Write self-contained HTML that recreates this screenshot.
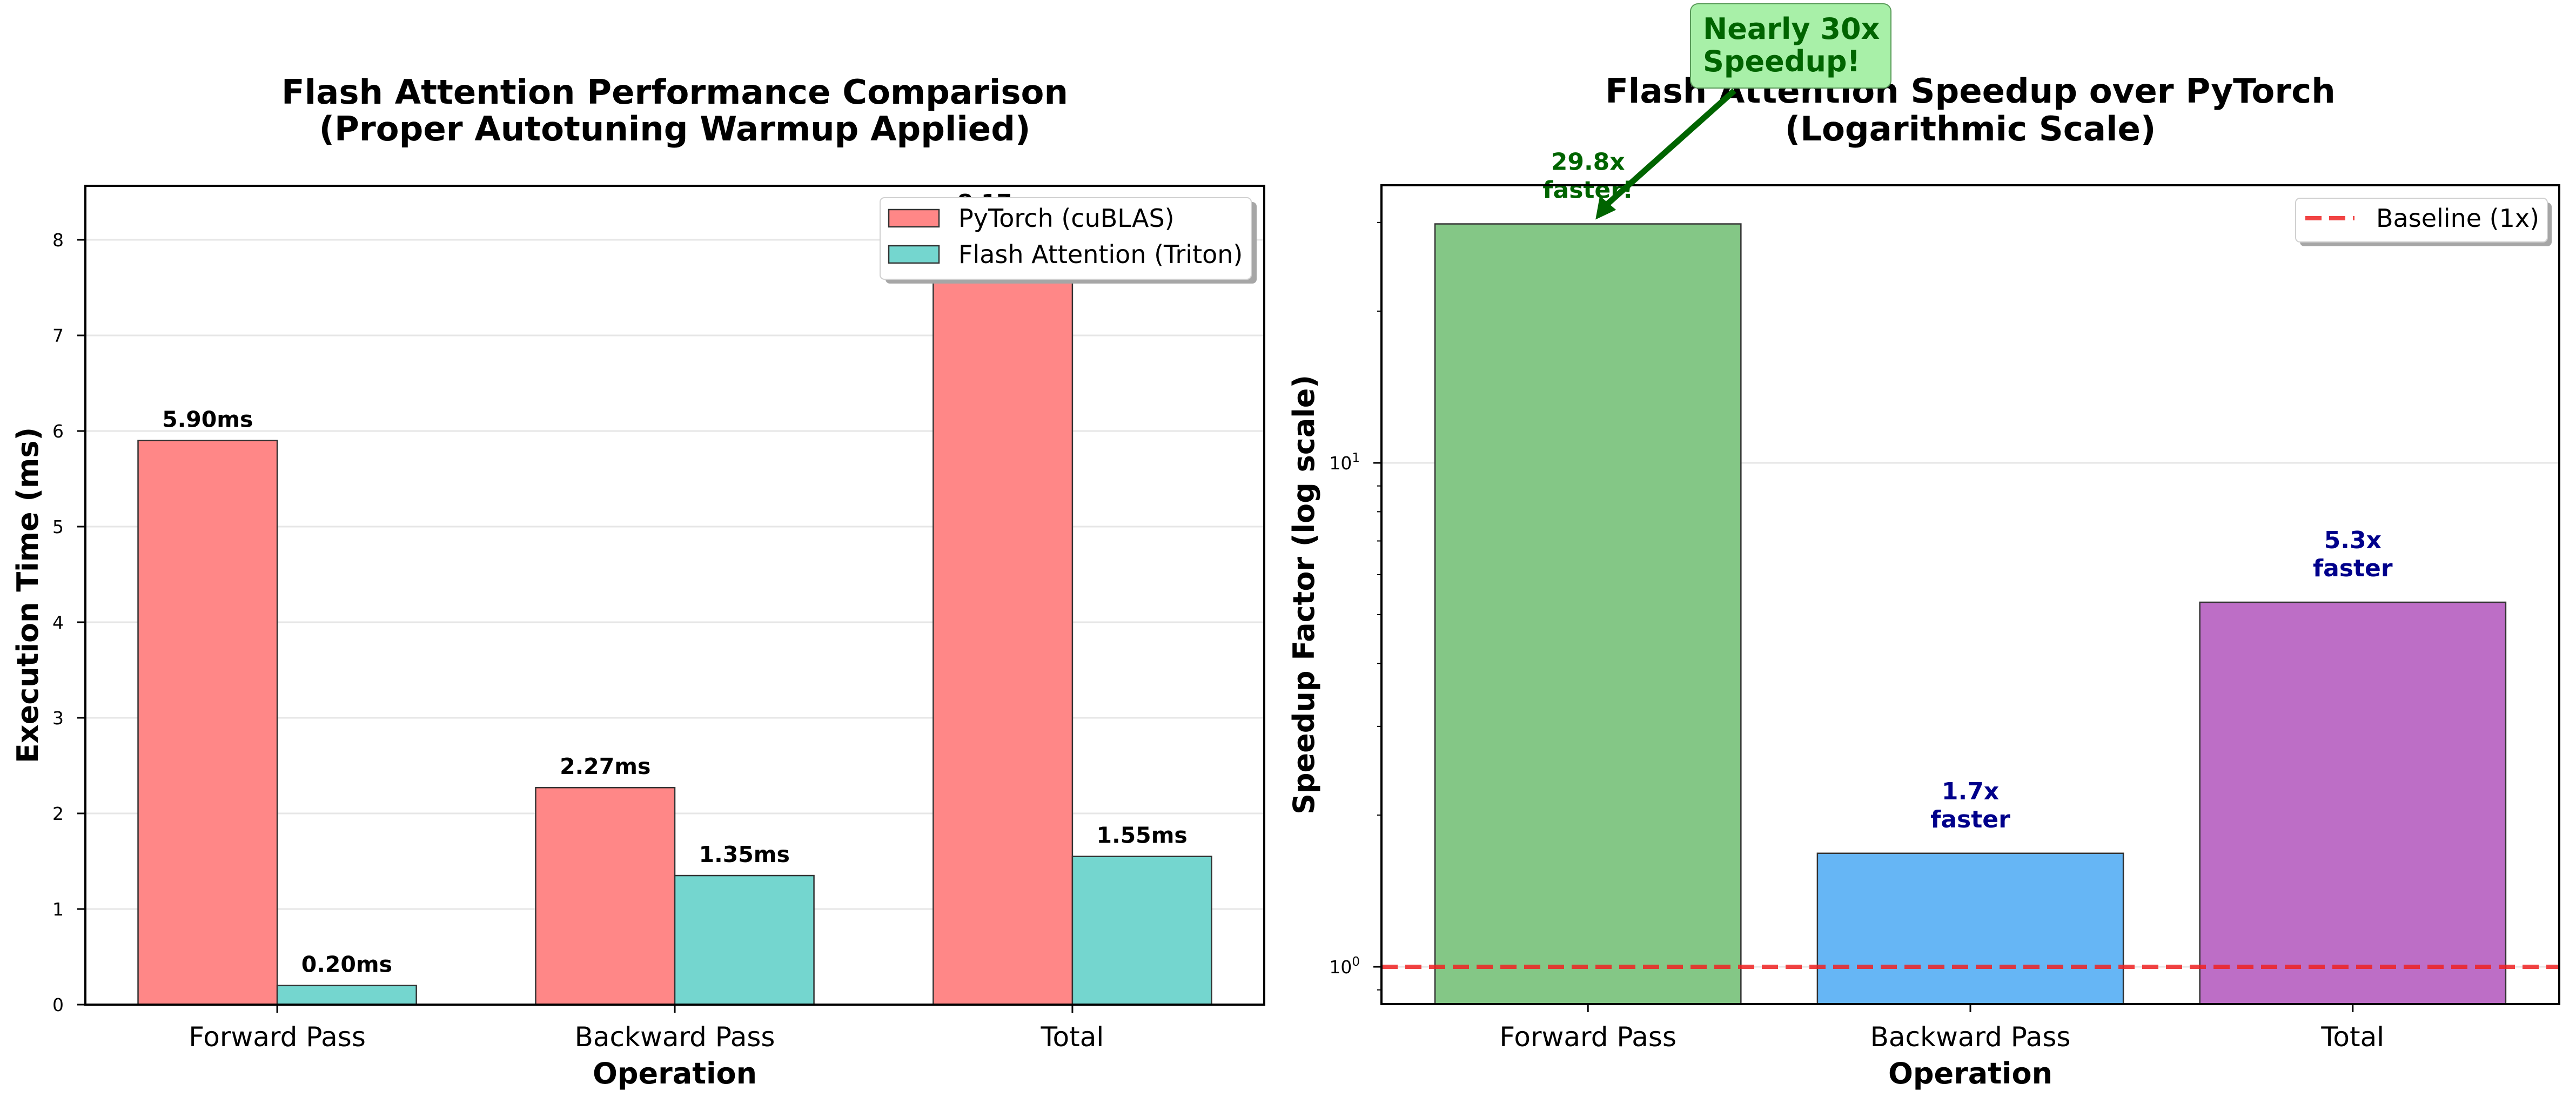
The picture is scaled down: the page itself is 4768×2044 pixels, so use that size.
<!DOCTYPE html>
<html><head><meta charset="utf-8"><style>
html,body{margin:0;padding:0;background:#fff;}
svg{display:block;font-family:"DejaVu Sans","Liberation Sans",sans-serif;}
</style></head><body>
<svg id="fig" width="4768" height="2044" viewBox="0 0 4768 2044" xmlns="http://www.w3.org/2000/svg">
<rect width="4768" height="2044" fill="#fff"/>
<g id="left"></g>
<g id="right"></g>
</svg>
<script>
const categories = ["Forward Pass", "Backward Pass", "Total"];
const pytorchTimes = [5.90, 2.27, 8.17];
const flashTimes = [0.20, 1.35, 1.55];
const timeTicks = [0, 1, 2, 3, 4, 5, 6, 7, 8];
const speedups = [29.8, 1.68, 5.29];
const speedupLabels = ["29.8x", "1.7x", "5.3x"];
const logMajorTicks = [1, 10];
const logMinorTicks = [0.9, 2, 3, 4, 5, 6, 7, 8, 9, 20, 30];

const NS = "http://www.w3.org/2000/svg";
function mk(parent, tag, attrs, text) {
  const e = document.createElementNS(NS, tag);
  for (const k in attrs) e.setAttribute(k, attrs[k]);
  if (text !== undefined) e.textContent = text;
  parent.appendChild(e);
  return e;
}

/* ---------- LEFT CHART ---------- */
const L = document.getElementById("left");
const lx0 = 158, lx1 = 2340, ly0 = 344, ly1 = 1860;
const lxmin = -0.4825, lxmax = 2.4825, lymax = (1860 - 344) / 177;
const lxs = v => lx0 + (v - lxmin) / (lxmax - lxmin) * (lx1 - lx0);
const lys = v => ly1 - v / lymax * (ly1 - ly0);
const bw = 0.35;

timeTicks.forEach(t => {
  const g = mk(L, "line", {x1: lx0, x2: lx1, y1: lys(t), y2: lys(t), stroke: "#e6e6e6", "stroke-width": 3});
  
  
  const tk = mk(L, "line", {x1: lx0 - 15, x2: lx0, y1: lys(t), y2: lys(t), stroke: "#000", "stroke-width": 3});
  
  
  const tl = mk(L, "text", {x: 118, y: lys(t) + 12, "font-size": 33, "text-anchor": "end"}, String(t));
  
  
});

categories.forEach((c, i) => {
  const h1 = pytorchTimes[i], h2 = flashTimes[i];
  const b1 = mk(L, "rect", {x: lxs(i - bw), y: lys(h1), width: lxs(i) - lxs(i - bw), height: lys(0) - lys(h1), fill: "#ff8787", stroke: "#333", "stroke-width": 2.5});
  
  
  const b2 = mk(L, "rect", {x: lxs(i), y: lys(h2), width: lxs(i + bw) - lxs(i), height: lys(0) - lys(h2), fill: "#74d6cf", stroke: "#333", "stroke-width": 2.5});
  
  
  const v1 = mk(L, "text", {x: lxs(i - bw / 2), y: lys(h1) - 25, "font-size": 41, "font-weight": "bold", "text-anchor": "middle"}, h1.toFixed(2) + "ms");
  
  
  const v2 = mk(L, "text", {x: lxs(i + bw / 2), y: lys(h2) - 25, "font-size": 41, "font-weight": "bold", "text-anchor": "middle"}, h2.toFixed(2) + "ms");
  
  
  const xt = mk(L, "line", {x1: lxs(i), x2: lxs(i), y1: ly1, y2: ly1 + 15, stroke: "#000", "stroke-width": 3});
  
  
  const xl = mk(L, "text", {x: lxs(i), y: 1937, "font-size": 50, "text-anchor": "middle"}, c);
  
  
});

(function(){
  const f = mk(L, "rect", {x: lx0, y: ly0, width: lx1 - lx0, height: ly1 - ly0, fill: "none", stroke: "#000", "stroke-width": 4});
  
  
  const t1 = mk(L, "text", {x: (lx0 + lx1) / 2, y: 192, "font-size": 62.5, "font-weight": "bold", "text-anchor": "middle"}, "Flash Attention Performance Comparison");
  
  
  const t2 = mk(L, "text", {x: (lx0 + lx1) / 2, y: 260, "font-size": 62.5, "font-weight": "bold", "text-anchor": "middle"}, "(Proper Autotuning Warmup Applied)");
  
  
  const yl = mk(L, "text", {x: 0, y: 0, "font-size": 54, "font-weight": "bold", "text-anchor": "middle", transform: "translate(70," + (ly0 + ly1) / 2 + ") rotate(-90)"}, "Execution Time (ms)");
  
  
  const xl = mk(L, "text", {x: (lx0 + lx1) / 2, y: 2006, "font-size": 54, "font-weight": "bold", "text-anchor": "middle"}, "Operation");
  
  
  const lg = mk(L, "g", {});
  
  
  mk(lg, "rect", {x: 1639, y: 374, width: 687, height: 151, rx: 8, fill: "#a6a6a6"});
  mk(lg, "rect", {x: 1629, y: 366, width: 687, height: 151, rx: 8, fill: "#fff", stroke: "#d0d0d0", "stroke-width": 2});
  const e1 = mk(lg, "rect", {x: 1645, y: 388, width: 93, height: 32, fill: "#ff8787", stroke: "#333", "stroke-width": 2.5});
  
  
  mk(lg, "text", {x: 1774, y: 420, "font-size": 46}, "PyTorch (cuBLAS)");
  const e2 = mk(lg, "rect", {x: 1645, y: 455, width: 93, height: 32, fill: "#74d6cf", stroke: "#333", "stroke-width": 2.5});
  
  
  mk(lg, "text", {x: 1774, y: 487, "font-size": 46}, "Flash Attention (Triton)");
})();

/* ---------- RIGHT CHART ---------- */
const R = document.getElementById("right");
const rx0 = 2557, rx1 = 4737, ry0 = 343, ry1 = 1859;
const rxmin = -0.54, rxmax = 2.54;
const y1Pos = 1790, decade = 933;
const rxs = v => rx0 + (v - rxmin) / (rxmax - rxmin) * (rx1 - rx0);
const rys = v => y1Pos - Math.log10(v) * decade;
const rbw = 0.8;
const barColors = ["#84c786", "#66b6f5", "#bd6ec6"];
const labelColors = ["#006400", "#00008b", "#00008b"];

logMajorTicks.forEach(t => {
  const g = mk(R, "line", {x1: rx0, x2: rx1, y1: rys(t), y2: rys(t), stroke: "#e6e6e6", "stroke-width": 3});
  
  
  const tk = mk(R, "line", {x1: rx0 - 15, x2: rx0, y1: rys(t), y2: rys(t), stroke: "#000", "stroke-width": 3});
  
  
  const tl = mk(R, "text", {x: 2517, y: rys(t) + 12, "font-size": 33, "text-anchor": "end"});
  
  
  mk(tl, "tspan", {}, "10");
  mk(tl, "tspan", {dy: -14, "font-size": 23}, String(Math.round(Math.log10(t))));
});
logMinorTicks.forEach(t => {
  const tk = mk(R, "line", {x1: rx0 - 8, x2: rx0, y1: rys(t), y2: rys(t), stroke: "#000", "stroke-width": 2});
  
  
});

categories.forEach((c, i) => {
  const v = speedups[i];
  const b = mk(R, "rect", {x: rxs(i - rbw / 2), y: rys(v), width: rxs(i + rbw / 2) - rxs(i - rbw / 2), height: ry1 - rys(v), fill: barColors[i], stroke: "#333", "stroke-width": 2.5});
  
  
  const t1 = mk(R, "text", {x: rxs(i), y: rys(v) - 100, "font-size": 44, "font-weight": "bold", "text-anchor": "middle", fill: labelColors[i]}, speedupLabels[i]);
  
  
  const t2 = mk(R, "text", {x: rxs(i), y: rys(v) - 48, "font-size": 44, "font-weight": "bold", "text-anchor": "middle", fill: labelColors[i]}, i === 0 ? "faster!" : "faster");
  
  
  const xt = mk(R, "line", {x1: rxs(i), x2: rxs(i), y1: ry1, y2: ry1 + 15, stroke: "#000", "stroke-width": 3});
  
  
  const xl = mk(R, "text", {x: rxs(i), y: 1937, "font-size": 50, "text-anchor": "middle"}, c);
  
  
});

(function(){
  const bl = mk(R, "line", {x1: rx0, x2: rx1, y1: rys(1), y2: rys(1), stroke: "#ee2222", "stroke-opacity": 0.85, "stroke-width": 8, "stroke-dasharray": "30 14"});
  
  
  const f = mk(R, "rect", {x: rx0, y: ry0, width: rx1 - rx0, height: ry1 - ry0, fill: "none", stroke: "#000", "stroke-width": 4});
  
  
  const t1 = mk(R, "text", {x: (rx0 + rx1) / 2, y: 190, "font-size": 62.5, "font-weight": "bold", "text-anchor": "middle"}, "Flash Attention Speedup over PyTorch");
  
  
  const t2 = mk(R, "text", {x: (rx0 + rx1) / 2, y: 260, "font-size": 62.5, "font-weight": "bold", "text-anchor": "middle"}, "(Logarithmic Scale)");
  
  
  const yl = mk(R, "text", {x: 0, y: 0, "font-size": 54, "font-weight": "bold", "text-anchor": "middle", transform: "translate(2432," + (ry0 + ry1) / 2 + ") rotate(-90)"}, "Speedup Factor (log scale)");
  
  
  const xl = mk(R, "text", {x: (rx0 + rx1) / 2, y: 2006, "font-size": 54, "font-weight": "bold", "text-anchor": "middle"}, "Operation");
  
  
  const lg = mk(R, "g", {});
  
  
  mk(lg, "rect", {x: 4257, y: 375, width: 466, height: 81, rx: 8, fill: "#a6a6a6"});
  mk(lg, "rect", {x: 4249, y: 367, width: 466, height: 81, rx: 8, fill: "#fff", stroke: "#d0d0d0", "stroke-width": 2});
  const le = mk(lg, "line", {x1: 4267, x2: 4358, y1: 404, y2: 404, stroke: "#ee2222", "stroke-opacity": 0.85, "stroke-width": 8, "stroke-dasharray": "30 14"});
  
  
  mk(lg, "text", {x: 4398, y: 420, "font-size": 46}, "Baseline (1x)");
  const an = mk(R, "g", {});
  
  
  mk(an, "rect", {x: 3129, y: 7, width: 371, height: 156, rx: 14, fill: "#a8f0a8", stroke: "#5a9a5a", "stroke-width": 2});
  mk(an, "text", {x: 3152, y: 72, "font-size": 54, "font-weight": "bold", fill: "#006400"}, "Nearly 30x");
  mk(an, "text", {x: 3152, y: 132, "font-size": 54, "font-weight": "bold", fill: "#006400"}, "Speedup!");
  const ax = rxs(0) + 14, ay = rys(speedups[0]) - 8;
  mk(an, "line", {x1: 3210, y1: 168, x2: ax + 12, y2: ay - 20, stroke: "#006400", "stroke-width": 11});
  mk(an, "polygon", {points: `${ax},${ay} ${ax + 8},${ay - 44} ${ax + 38},${ay - 18}`, fill: "#006400"});
})();
</script>
</body></html>
